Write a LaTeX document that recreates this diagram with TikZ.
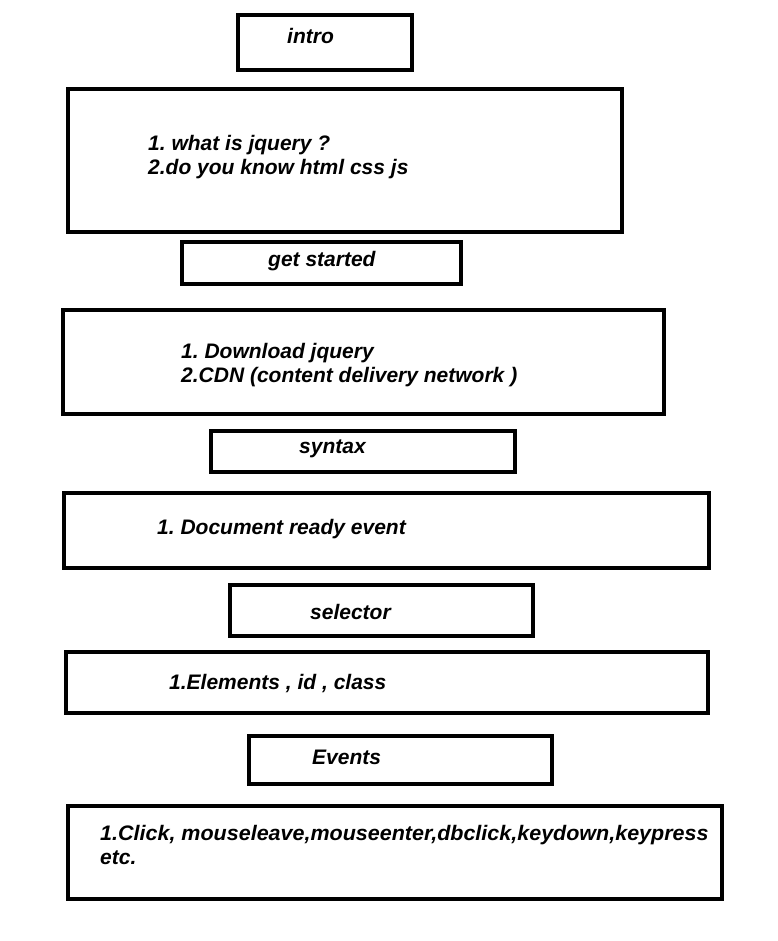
\documentclass[tikz,border=0pt]{standalone}
\usepackage{fontspec}
\usepackage{graphicx}
\setmainfont{Liberation Sans}
\frenchspacing
\begin{document}
\begin{tikzpicture}[x=1pt,y=-1pt,
  box/.style={draw=black,line width=4pt,inner sep=0pt,fill=none},
  lbl/.style={anchor=base west,inner sep=0pt,font=\fontsize{21}{24}\selectfont\bfseries\itshape,align=left}]
\useasboundingbox (0,0) rectangle (777,941);
\fill[white] (0,0) rectangle (777,941);
\node[box,minimum width=174pt,minimum height=55pt] (b1) at (325,42.5) {};
\node[box,minimum width=554pt,minimum height=143pt] (b2) at (345,160.5) {};
\node[box,minimum width=279pt,minimum height=42pt] (b3) at (321.5,263) {};
\node[box,minimum width=601pt,minimum height=104pt] (b4) at (363.5,362) {};
\node[box,minimum width=304pt,minimum height=41pt] (b5) at (363,451.5) {};
\node[box,minimum width=645pt,minimum height=75pt] (b6) at (386.5,530.5) {};
\node[box,minimum width=303pt,minimum height=51pt] (b7) at (381.5,610.5) {};
\node[box,minimum width=642pt,minimum height=61pt] (b8) at (387,682.5) {};
\node[box,minimum width=303pt,minimum height=48pt] (b9) at (400.5,760) {};
\node[box,minimum width=654pt,minimum height=93pt] (b10) at (395,852.5) {};
\node[lbl] (t1) at (287,44) {intro};
\node[lbl] (t2a) at (148,151) {1. what is jquery ?};
\node[lbl] (t2b) at (148,175) {2.do you know html css js};
\node[lbl] (t3) at (268,266) {get started};
\node[lbl] (t4a) at (181,358) {1. Download jquery};
\node[lbl] (t4b) at (181,382) {2.CDN (content delivery network )};
\node[lbl] (t5) at (299,453) {syntax};
\node[lbl] (t6) at (157,534) {1. Document ready event};
\node[lbl] (t7) at (310,619) {selector};
\node[lbl] (t8) at (169,689) {1.Elements , id , class};
\node[lbl] (t9) at (312,764) {Events};
\node[lbl] (t10a) at (100,840) {\scalebox{1.024}[1]{1.Click, mouseleave,mouseenter,dbclick,keydown,keypress}};
\node[lbl] (t10b) at (100,864) {etc.};
\end{tikzpicture}
\end{document}
